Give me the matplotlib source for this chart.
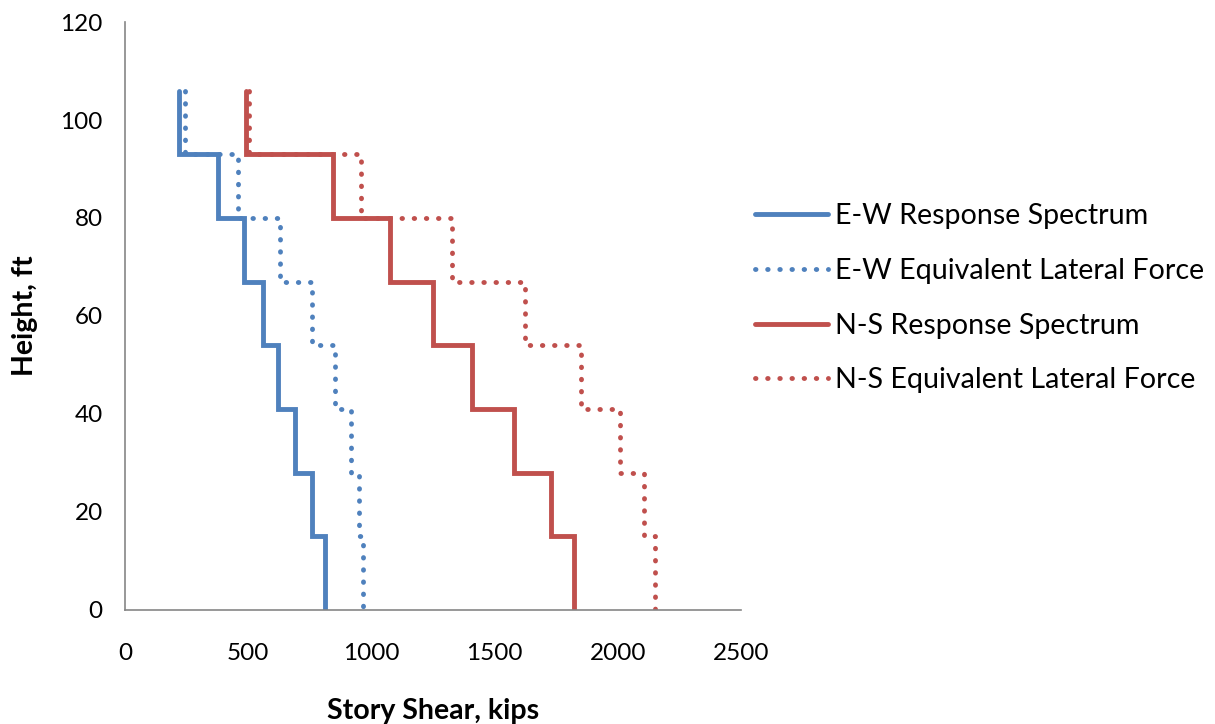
import numpy as np
import matplotlib
matplotlib.use('Agg')
import matplotlib.pyplot as plt

# story levels (ft), top of building down to base
heights = [106, 93, 80, 67, 54, 41, 28, 15, 0]

# story shear (kips) per story, top story first
ew_rs = [220, 378, 484, 558, 622, 690, 758, 812]
ew_elf = [244, 457, 629, 759, 852, 917, 951, 966]
ns_rs = [491, 846, 1076, 1249, 1408, 1580, 1728, 1822]
ns_elf = [502, 956, 1329, 1625, 1851, 2009, 2106, 2149]

labels = ['E-W Response Spectrum', 'E-W Equivalent Lateral Force',
          'N-S Response Spectrum', 'N-S Equivalent Lateral Force']

blue = '#4F81BD'
red = '#C0504D'
dotted = (0, (0.1, 2.4))


def stair(shear, h):
    # vertical run for each story at its shear, horizontal jump at floor
    x = np.repeat(shear, 2)
    y = np.repeat(h, 2)[1:-1]
    return x, y


plt.rcParams['font.family'] = ['Lato', 'DejaVu Sans']

fig = plt.figure(figsize=(12.15, 7.24), dpi=100)
ax = fig.add_axes([0.1029, 0.1575, 0.5070, 0.8121])

series = [(ew_rs, blue, '-'), (ew_elf, blue, dotted),
          (ns_rs, red, '-'), (ns_elf, red, dotted)]
lines = []
for (vals, col, ls), lab in zip(series, labels):
    x, y = stair(vals, heights)
    l, = ax.plot(x, y, color=col, ls=ls, lw=3.5, label=lab,
                 solid_capstyle='round', dash_capstyle='round',
                 solid_joinstyle='miter')
    lines.append(l)

ax.set_xlim(0, 2500)
ax.set_ylim(0, 120)
ax.set_xticks(range(0, 2501, 500))
ax.set_yticks(range(0, 121, 20))
ax.tick_params(length=0, labelsize=17.5)
ax.tick_params(axis='x', pad=24)
ax.tick_params(axis='y', pad=16)
for s in ['top', 'right']:
    ax.spines[s].set_visible(False)
for s in ['left', 'bottom']:
    ax.spines[s].set_color('#868686')
    ax.spines[s].set_linewidth(1.2)

ax.set_xlabel('Story Shear, kips', fontsize=20.5, fontweight='bold', labelpad=24)
ax.set_ylabel('Height, ft', fontsize=20.5, fontweight='bold', labelpad=16)

fig.legend(handles=lines, loc='center left', bbox_to_anchor=(0.6214, 0.588),
           frameon=False, fontsize=20.6, handlelength=2.55, handletextpad=0.25,
           labelspacing=1.0, borderpad=0, borderaxespad=0)

plt.savefig('out.png', dpi=100, facecolor='w')
